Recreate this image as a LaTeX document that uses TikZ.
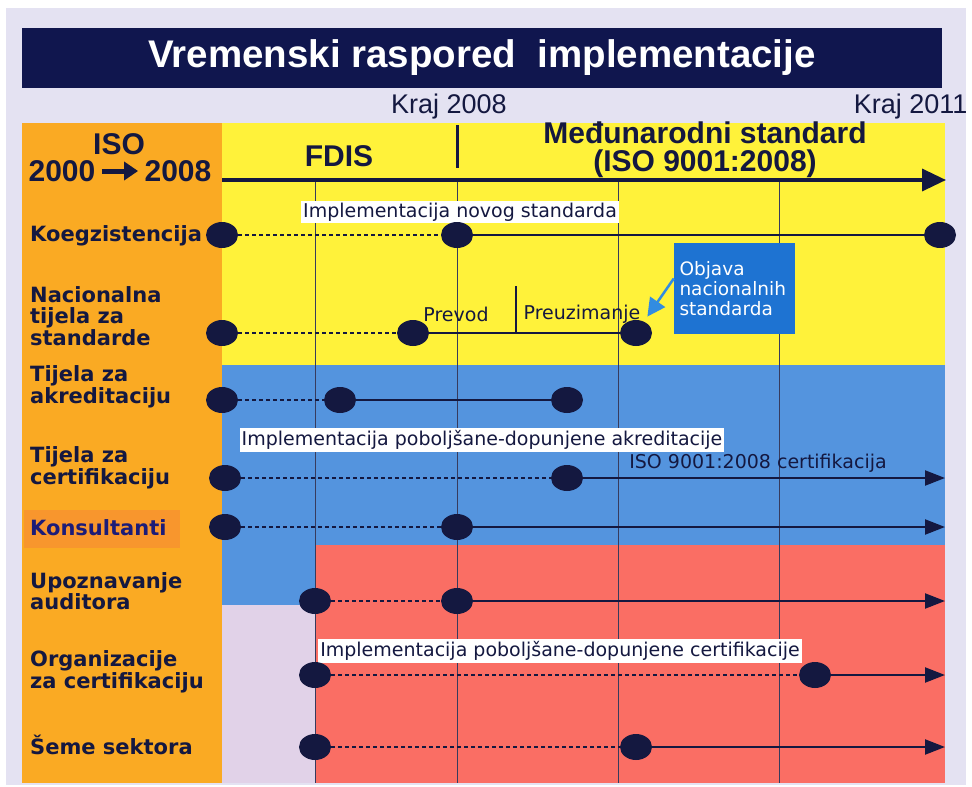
\documentclass[tikz,border=0pt]{standalone}
\usepackage{fontspec}
\setmainfont{DejaVu Sans}
\newfontfamily\headfont{Liberation Sans}
\usetikzlibrary{arrows.meta, shapes.geometric}
\definecolor{ink}{RGB}{20,24,64}
\definecolor{titlebar}{RGB}{16,22,78}
\definecolor{sky}{RGB}{228,226,242}
\definecolor{orangecol}{RGB}{250,170,35}
\definecolor{konsbox}{RGB}{248,150,45}
\definecolor{konsink}{RGB}{28,28,120}
\definecolor{yellowband}{RGB}{255,242,58}
\definecolor{blueband}{RGB}{84,148,222}
\definecolor{pinkband}{RGB}{250,110,100}
\definecolor{lilac}{RGB}{225,210,232}
\definecolor{objblue}{RGB}{30,115,210}
\definecolor{objarrow}{RGB}{50,140,225}
\tikzset{>=latex,
  dot/.style={ellipse, fill=ink, minimum width=32pt, minimum height=26pt, inner sep=0pt},
  wait/.style={ink, line width=1.6pt, dash pattern=on 4pt off 3pt},
  run/.style={ink, line width=2.2pt},
  tip/.style={-{Triangle[length=20pt,width=15pt]}},
  rowlabel/.style={anchor=west, align=left, inner sep=0pt, text=ink, font=\bfseries\fontsize{21}{21.5}\selectfont},
  note/.style={fill=white, inner sep=2pt, text=ink, font=\fontsize{19}{20}\selectfont},
  plain/.style={text=ink, inner sep=1pt, font=\fontsize{19}{20}\selectfont},
  head/.style={text=ink, align=center, font=\headfont\bfseries\fontsize{30}{28}\selectfont},
  yearlbl/.style={text=ink, font=\headfont\fontsize{27}{27}\selectfont},
  gridline/.style={ink!85, line width=1pt}
}

\begin{document}
\begin{tikzpicture}[x=1pt,y=-1pt]
\useasboundingbox (0,0) rectangle (972,787);
\fill[white] (0,0) rectangle (972,787);
\fill[sky] (6,8) rectangle (966,785);
\fill[titlebar] (22,28) rectangle (942,88);
\node[text=white, font=\headfont\bfseries\fontsize{38.5}{38}\selectfont] (title) at (482,58) {Vremenski raspored\ \ implementacije};

\fill[orangecol] (22,123) rectangle (222,783);
\fill[yellowband] (222,123) rectangle (945,365);
\fill[blueband] (222,365) rectangle (945,545);
\fill[blueband] (222,545) rectangle (315,605);
\fill[lilac] (222,605) rectangle (315,783);
\fill[pinkband] (315,545) rectangle (945,783);
\fill[konsbox] (24,510) rectangle (180,548);
\foreach \gx in {315,457,618,779}
  \draw[gridline] (\gx,180) -- (\gx,783);
\draw[ink, line width=3pt] (457,125) -- (457,168);

\node[yearlbl] (kraj08) at (449,107) {Kraj 2008};
\node[yearlbl, anchor=east] (kraj11) at (971,107) {Kraj 2011};
\node[head] (fdis) at (339,156) {FDIS};
\node[head] (intl) at (705,150) {Međunarodni standard\\(ISO 9001:2008)};
\node[head] (iso) at (119,144) {ISO};
\node[head] (from) at (62,171) {2000};
\node[head] (to) at (178,171) {2008};
\draw[ink, line width=5pt, shorten <=3pt, shorten >=3pt, -{Triangle[length=14pt,width=18pt]}] (from) -- (to);
\coordinate (axis0) at (222,180);
\coordinate (axis1) at (946,180);
\draw[ink, line width=3.5pt, -{Triangle[length=24pt,width=22pt]}] (axis0) -- (axis1);

\node[rowlabel] (lk) at (30,236) {Koegzistencija};
\node[note] (novi) at (460,212) {Implementacija novog standarda};
\node[dot] (k0) at (222,235) {};
\node[dot] (k1) at (457,235) {};
\node[dot] (k2) at (940,235) {};
\draw[wait] (k0) -- (k1);
\draw[run] (k1) -- (k2);

\node[rowlabel] (ln) at (30,316) {Nacionalna\\tijela za\\standarde};
\node[dot] (n0) at (222,333) {};
\node[dot] (n1) at (413,333) {};
\node[dot] (n2) at (636,333) {};
\draw[wait] (n0) -- (n1);
\draw[run] (n1) -- (n2);
\coordinate (cut) at (516,286);
\draw[run] (cut) -- (cut |- n1);
\node[plain] (prevod) at (456,314) {Prevod};
\node[plain] (preuz) at (582,314) {Preuzimanje};
\node[fill=objblue, text=white, align=left, text width=110pt, inner sep=5.5pt, minimum height=91pt, font=\fontsize{18.5}{20}\selectfont] (objava) at (734.5,288.5) {Objava\\nacionalnih\\standarda};
\draw[objarrow, line width=2.5pt, shorten >=6pt, -{Triangle[length=18pt,width=18pt]}] ([yshift=10pt]objava.west) -- (n2);

\node[rowlabel] (la) at (30,387) {Tijela za\\akreditaciju};
\node[dot] (a0) at (222,400) {};
\node[dot] (a1) at (340,400) {};
\node[dot] (a2) at (567,400) {};
\draw[wait] (a0) -- (a1);
\draw[run] (a1) -- (a2);

\node[rowlabel] (lc) at (30,468) {Tijela za\\certifikaciju};
\node[note] (akr) at (482,440) {Implementacija poboljšane-dopunjene akreditacije};
\node[plain] (isocert) at (758,463) {ISO 9001:2008 certifikacija};
\node[dot] (c0) at (225,478) {};
\node[dot] (c1) at (567,478) {};
\coordinate (cEnd) at (945,478);
\draw[wait] (c0) -- (c1);
\draw[run, tip] (c1) -- (cEnd);

\node[rowlabel, text=konsink] (ls) at (30,528) {Konsultanti};
\node[dot] (s0) at (225,527) {};
\node[dot] (s1) at (457,527) {};
\coordinate (sEnd) at (945,527);
\draw[wait] (s0) -- (s1);
\draw[run, tip] (s1) -- (sEnd);

\node[rowlabel] (lu) at (30,591) {Upoznavanje\\auditora};
\node[dot] (u0) at (315,601) {};
\node[dot] (u1) at (457,601) {};
\coordinate (uEnd) at (945,601);
\draw[wait] (u0) -- (u1);
\draw[run, tip] (u1) -- (uEnd);

\node[rowlabel] (lo) at (30,672) {Organizacije\\za certifikaciju};
\node[note] (cert) at (560,651) {Implementacija poboljšane-dopunjene certifikacije};
\node[dot] (o0) at (315,675) {};
\node[dot] (o1) at (815,675) {};
\coordinate (oEnd) at (945,675);
\draw[wait] (o0) -- (o1);
\draw[run, tip] (o1) -- (oEnd);

\node[rowlabel] (le) at (30,745) {Šeme sektora};
\node[dot] (e0) at (315,747) {};
\node[dot] (e1) at (636,747) {};
\coordinate (eEnd) at (945,747);
\draw[wait] (e0) -- (e1);
\draw[run, tip] (e1) -- (eEnd);
\end{tikzpicture}
\end{document}
